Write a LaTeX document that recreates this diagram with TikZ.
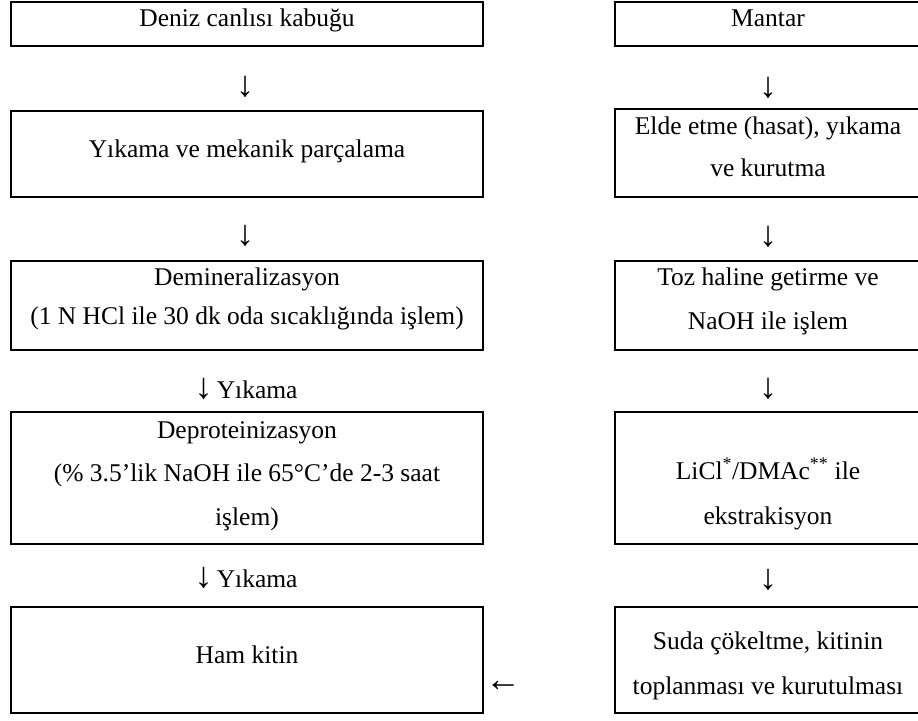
\documentclass[tikz,border=0pt]{standalone}
\usepackage{fontspec}
\setmainfont{Liberation Serif}
\newcommand{\bigdown}{{\fontsize{36}{36}\selectfont ↓}}
\begin{document}
\begin{tikzpicture}[x=1pt,y=-1pt,
  box/.style={draw, line width=2.6pt, outer sep=0pt, inner sep=0pt, anchor=north west},
  txt/.style={font=\fontsize{25.5}{30}\selectfont, inner sep=0pt, anchor=base},
  arr/.style={font=\fontsize{36}{36}\selectfont, inner sep=0pt, anchor=center}]
\useasboundingbox (0,0) rectangle (918,720);
\clip (0,0) rectangle (918,720);
% left boxes
\node[box, minimum width=472pt, minimum height=44pt]  (b1) at (11,2) {};
\node[box, minimum width=472pt, minimum height=86pt]  (b2) at (11,111) {};
\node[box, minimum width=472pt, minimum height=89pt]  (b3) at (11,261) {};
\node[box, minimum width=472pt, minimum height=132pt] (b4) at (11,412) {};
\node[box, minimum width=472pt, minimum height=106pt] (b5) at (11,607) {};
% right boxes (cut by the right edge)
\node[box, minimum width=320pt, minimum height=44pt]  (r1) at (615,2) {};
\node[box, minimum width=320pt, minimum height=88pt]  (r2) at (615,109) {};
\node[box, minimum width=320pt, minimum height=89pt]  (r3) at (615,261) {};
\node[box, minimum width=320pt, minimum height=132pt] (r4) at (615,412) {};
\node[box, minimum width=320pt, minimum height=106pt] (r5) at (615,607) {};
% left texts
\node[txt] (t1) at (247,27) {Deniz canlısı kabuğu};
\node[txt] (t2) at (247,157) {Yıkama ve mekanik parçalama};
\node[txt] (t3a) at (247,285) {Demineralizasyon};
\node[txt] (t3b) at (247,324) {(1 N HCl ile 30 dk oda sıcaklığında işlem)};
\node[txt] (t4a) at (247,438) {Deproteinizasyon};
\node[txt] (t4b) at (247,481) {(\% 3.5’lik NaOH ile 65°C’de 2-3 saat};
\node[txt] (t4c) at (247,525) {işlem)};
\node[txt] (t5) at (247,663) {Ham kitin};
% right texts
\node[txt] (s1) at (768,27) {Mantar};
\node[txt] (s2a) at (768,134) {Elde etme (hasat), yıkama};
\node[txt] (s2b) at (768,176) {ve kurutma};
\node[txt] (s3a) at (768,285) {Toz haline getirme ve};
\node[txt] (s3b) at (768,329) {NaOH ile işlem};
\node[txt] (s4a) at (768,479) {LiCl\textsuperscript{*}/DMAc\textsuperscript{**} ile};
\node[txt] (s4b) at (768,524) {ekstrakisyon};
\node[txt] (s5a) at (768,649) {Suda çökeltme, kitinin};
\node[txt] (s5b) at (768,694) {toplanması ve kurutulması};
% arrows (printed as characters)
\node[arr] (a1) at (245,87) {↓};
\node[arr] (a2) at (245,236) {↓};
\node[txt] (a3) at (246,398) {\bigdown\,Yıkama};
\node[txt] (a4) at (246,587) {\bigdown\,Yıkama};
\node[arr] (c1) at (768,88) {↓};
\node[arr] (c2) at (768,237) {↓};
\node[arr] (c3) at (768,389) {↓};
\node[arr] (c4) at (768,580) {↓};
\node[arr] (m1) at (503,686) {←};
\end{tikzpicture}
\end{document}
